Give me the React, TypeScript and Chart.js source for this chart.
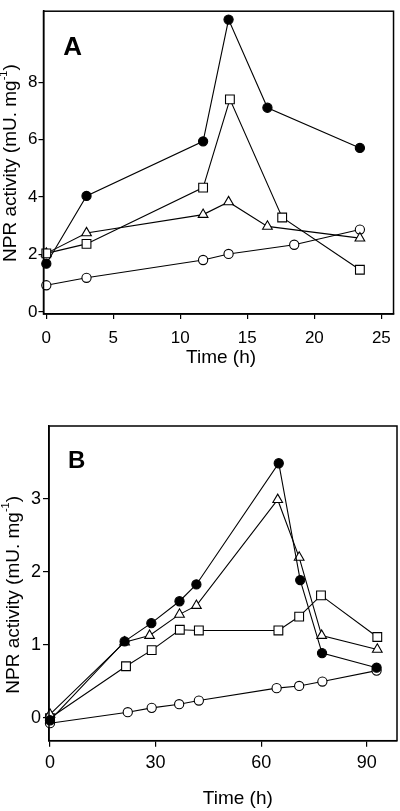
import React, { useEffect, useRef } from "react";
import { Chart, registerables } from "chart.js";
Chart.register(...registerables);

const FAMILY = "'Liberation Sans', Arial, Helvetica, sans-serif";

// ---------- Text ----------
const yTitleMain = "NPR activity (mU. mg";
const yTitleSup = "-1";
const yTitleEnd = ")";
const xTitle = "Time (h)";
const labelA = "A";
const labelB = "B";

// ---------- Panel A data ----------
const xTicksA = [0, 5, 10, 15, 20, 25];
const yTicksA = [0, 2, 4, 6, 8];

const timeA_filled = [0, 3.0, 11.7, 13.6, 16.5, 23.4];
const valA_filled = [1.68, 4.04, 5.94, 10.18, 7.11, 5.71];

const timeA_square = [0, 3.0, 11.7, 13.7, 17.6, 23.4];
const valA_square = [2.04, 2.37, 4.33, 7.4, 3.29, 1.47];

const timeA_triangle = [0, 3.0, 11.7, 13.6, 16.5, 23.4];
const valA_triangle = [2.04, 2.75, 3.39, 3.83, 2.98, 2.57];

const timeA_open = [0, 3.0, 11.7, 13.6, 18.5, 23.4];
const valA_open = [0.93, 1.19, 1.81, 2.02, 2.34, 2.87];

// ---------- Panel B data ----------
const xTicksB = [0, 30, 60, 90];
const yTicksB = [0, 1, 2, 3];

const timeB_filled = [0, 21.2, 28.8, 36.8, 41.6, 65.0, 71.1, 77.3, 92.8];
const valB_filled = [-0.03, 1.05, 1.3, 1.6, 1.83, 3.49, 1.89, 0.89, 0.69];

const timeB_triangle = [0, 21.2, 28.3, 36.8, 41.6, 64.7, 70.8, 77.2, 93.0];
const valB_triangle = [0.05, 1.04, 1.13, 1.42, 1.54, 2.99, 2.2, 1.13, 0.94];

const timeB_square = [0, 21.6, 28.9, 36.9, 42.3, 64.9, 70.8, 77.0, 93.0];
const valB_square = [0.0, 0.71, 0.93, 1.21, 1.2, 1.2, 1.39, 1.68, 1.11];

const timeB_open = [0, 22.1, 28.9, 36.7, 42.3, 64.4, 70.8, 77.4, 92.8];
const valB_open = [-0.07, 0.08, 0.14, 0.19, 0.24, 0.41, 0.44, 0.5, 0.65];

// ---------- Styles ----------
type MarkerStyle = { pointStyle: string; fill: string; radius: number };
const FILLED: MarkerStyle = { pointStyle: "circle", fill: "#000", radius: 4.6 };
const OPEN: MarkerStyle = { pointStyle: "circle", fill: "#fff", radius: 4.6 };
const SQUARE: MarkerStyle = { pointStyle: "rect", fill: "#fff", radius: 6.2 };
const TRIANGLE: MarkerStyle = { pointStyle: "triangle", fill: "#fff", radius: 5.6 };

function ds(label: string, xs: number[], ys: number[], st: MarkerStyle) {
  return {
    label,
    data: xs.map((x, i) => ({ x, y: ys[i] })),
    showLine: true,
    borderColor: "#000",
    borderWidth: 1.1,
    tension: 0,
    pointStyle: st.pointStyle,
    pointRadius: st.radius,
    pointHoverRadius: st.radius,
    pointBackgroundColor: st.fill,
    pointBorderColor: "#000",
    pointBorderWidth: 1.1,
    clip: false as any,
  };
}

type PanelCfg = {
  canvasTop: number;
  canvasHeight: number;
  padTop: number;
  padRight: number;
  yAxisWidth: number;
  xAxisHeight: number;
  xMin: number;
  xMax: number;
  yMin: number;
  yMax: number;
  xTicks: number[];
  yTicks: number[];
  tickFont: number;
  xTickLen: number;
  xTickPad: number;
  yTickLen: number;
  yTickPad: number;
  datasets: any[];
  letter: string;
  letterSize: number;
  letterDx: number;
  letterDy: number;
  yTitleX: number;
  yTitleDy: number;
  xTitleDx: number;
  xTitleY: number;
};

function drawYTitle(ctx: CanvasRenderingContext2D, cx: number, cy: number, size: number) {
  ctx.save();
  ctx.translate(cx, cy);
  ctx.rotate(-Math.PI / 2);
  ctx.fillStyle = "#000";
  ctx.textBaseline = "middle";
  ctx.textAlign = "left";
  const big = `${size}px ${FAMILY}`;
  const small = `${Math.round(size * 0.6)}px ${FAMILY}`;
  ctx.font = big;
  const w1 = ctx.measureText(yTitleMain).width;
  const w3 = ctx.measureText(yTitleEnd).width;
  ctx.font = small;
  const w2 = ctx.measureText(yTitleSup).width;
  let x = -(w1 + w2 + w3) / 2;
  ctx.font = big;
  ctx.fillText(yTitleMain, x, 0);
  x += w1;
  ctx.font = small;
  ctx.fillText(yTitleSup, x, -size * 0.38);
  x += w2;
  ctx.font = big;
  ctx.fillText(yTitleEnd, x, 0);
  ctx.restore();
}

function Panel({ cfg }: { cfg: PanelCfg }) {
  const ref = useRef<HTMLCanvasElement>(null);
  useEffect(() => {
    const frame = {
      id: "frameAndText",
      afterDatasetsDraw(chart: any) {
        const { ctx, chartArea } = chart;
        const { left, right, top, bottom } = chartArea;
        ctx.save();
        ctx.strokeStyle = "#000";
        ctx.lineWidth = 1.5;
        ctx.strokeRect(left, top, right - left, bottom - top);
        // panel letter
        ctx.fillStyle = "#000";
        ctx.font = `bold ${cfg.letterSize}px ${FAMILY}`;
        ctx.textAlign = "left";
        ctx.textBaseline = "alphabetic";
        ctx.fillText(cfg.letter, left + cfg.letterDx, top + cfg.letterDy);
        // x title
        ctx.font = `19px ${FAMILY}`;
        ctx.textAlign = "center";
        ctx.textBaseline = "middle";
        ctx.fillText(xTitle, (left + right) / 2 + cfg.xTitleDx, cfg.xTitleY);
        ctx.restore();
        drawYTitle(ctx, cfg.yTitleX, (top + bottom) / 2 + cfg.yTitleDy, 19);
      },
    };
    const chart = new Chart(ref.current as HTMLCanvasElement, {
      type: "scatter",
      data: { datasets: cfg.datasets },
      options: {
        animation: false,
        responsive: false,
        maintainAspectRatio: false,
        events: [],
        layout: {
          autoPadding: false,
          padding: { left: 0, right: cfg.padRight, top: cfg.padTop, bottom: 0 },
        } as any,
        plugins: {
          legend: { display: false },
          tooltip: { enabled: false },
          title: { display: false },
        },
        scales: {
          x: {
            type: "linear",
            min: cfg.xMin,
            max: cfg.xMax,
            afterBuildTicks: (s: any) => {
              s.ticks = cfg.xTicks.map((v) => ({ value: v }));
            },
            afterFit: (s: any) => {
              s.height = cfg.xAxisHeight;
            },
            ticks: {
              color: "#000",
              font: { family: FAMILY, size: cfg.tickFont },
              padding: cfg.xTickPad,
              maxRotation: 0,
              autoSkip: false,
            },
            grid: {
              drawOnChartArea: false,
              drawTicks: true,
              tickLength: cfg.xTickLen,
              color: "#000",
              lineWidth: 1.2,
            },
            border: { display: true, color: "#000", width: 1.5 },
            title: { display: false },
          },
          y: {
            type: "linear",
            min: cfg.yMin,
            max: cfg.yMax,
            afterBuildTicks: (s: any) => {
              s.ticks = cfg.yTicks.map((v) => ({ value: v }));
            },
            afterFit: (s: any) => {
              s.width = cfg.yAxisWidth;
            },
            ticks: {
              color: "#000",
              font: { family: FAMILY, size: cfg.tickFont },
              padding: cfg.yTickPad,
              autoSkip: false,
            },
            grid: {
              drawOnChartArea: false,
              drawTicks: true,
              tickLength: cfg.yTickLen,
              color: "#000",
              lineWidth: 1.2,
            },
            border: { display: true, color: "#000", width: 1.5 },
            title: { display: false },
          },
        },
      } as any,
      plugins: [frame],
    });
    return () => chart.destroy();
  }, []);
  return (
    <canvas
      ref={ref}
      width={400}
      height={cfg.canvasHeight}
      style={{
        position: "absolute",
        left: 0,
        top: cfg.canvasTop,
        width: 400,
        height: cfg.canvasHeight,
        display: "block",
      }}
    />
  );
}

const panelA: PanelCfg = {
  canvasTop: 0,
  canvasHeight: 372,
  padTop: 3,
  padRight: 6,
  yAxisWidth: 43.5,
  xAxisHeight: 58,
  xMin: -0.21,
  xMax: 25.91,
  yMin: -0.07,
  yMax: 10.47,
  xTicks: xTicksA,
  yTicks: yTicksA,
  tickFont: 17,
  xTickLen: 5,
  xTickPad: 9,
  yTickLen: 5,
  yTickPad: 1,
  datasets: [
    ds("filled", timeA_filled, valA_filled, FILLED),
    ds("square", timeA_square, valA_square, SQUARE),
    ds("triangle", timeA_triangle, valA_triangle, TRIANGLE),
    ds("open", timeA_open, valA_open, OPEN),
  ],
  letter: labelA,
  letterSize: 26,
  letterDx: 19.8,
  letterDy: 43.7,
  yTitleX: 11,
  yTitleDy: 0.5,
  xTitleDx: 2.5,
  xTitleY: 357.3,
};

const panelB: PanelCfg = {
  canvasTop: 400,
  canvasHeight: 411,
  padTop: 26,
  padRight: 3,
  yAxisWidth: 49,
  xAxisHeight: 70.3,
  xMin: -0.28,
  xMax: 98.6,
  yMin: -0.31,
  yMax: 4.0,
  xTicks: xTicksB,
  yTicks: yTicksB,
  tickFont: 18,
  xTickLen: 6,
  xTickPad: 6,
  yTickLen: 6,
  yTickPad: 2,
  datasets: [
    ds("filled", timeB_filled, valB_filled, FILLED),
    ds("triangle", timeB_triangle, valB_triangle, TRIANGLE),
    ds("square", timeB_square, valB_square, SQUARE),
    ds("open", timeB_open, valB_open, OPEN),
  ],
  letter: labelB,
  letterSize: 24,
  letterDx: 19,
  letterDy: 42.3,
  yTitleX: 13.5,
  yTitleDy: 11.5,
  xTitleDx: 14.8,
  xTitleY: 398.3,
};

export default function App() {
  return (
    <div style={{ position: "absolute", left: 0, top: 0, width: 400, height: 811, background: "#fff" }}>
      <Panel cfg={panelA} />
      <Panel cfg={panelB} />
    </div>
  );
}
